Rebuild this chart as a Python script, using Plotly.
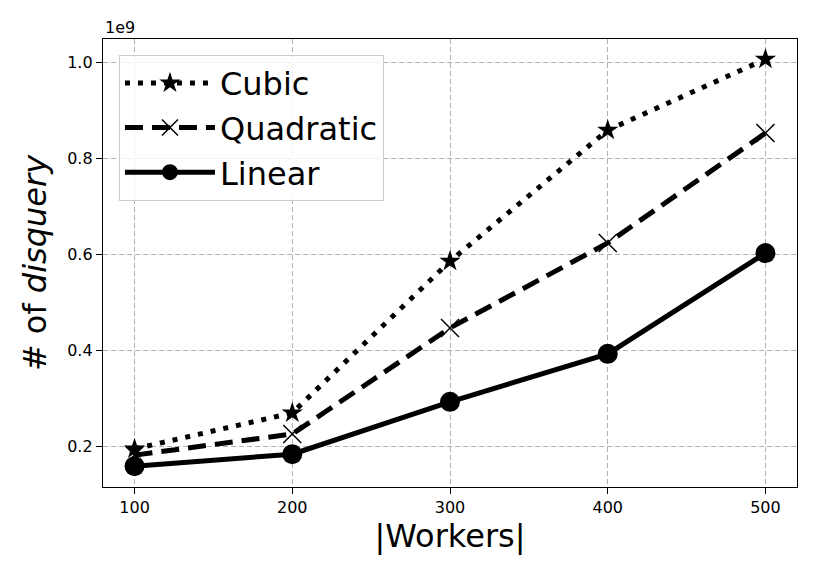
import plotly.graph_objects as go

workers = [100, 200, 300, 400, 500]
cubic = [0.194, 0.269, 0.585, 0.858, 1.006]
quadratic = [0.181, 0.225, 0.446, 0.623, 0.852]
linear = [0.158, 0.183, 0.292, 0.392, 0.602]

FONT = "DejaVu Sans"
fig = go.Figure()
fig.add_trace(go.Scatter(x=workers, y=cubic, name="Cubic", mode="lines+markers",
                         line=dict(color="black", width=5, dash="5px,8px"),
                         marker=dict(symbol="star", size=16, color="black")))
fig.add_trace(go.Scatter(x=workers, y=quadratic, name="Quadratic", mode="lines+markers",
                         line=dict(color="black", width=5, dash="18px,9px"),
                         marker=dict(symbol="x-thin-open", size=18, color="black",
                                     line=dict(color="black", width=1.5))))
fig.add_trace(go.Scatter(x=workers, y=linear, name="Linear", mode="lines+markers",
                         line=dict(color="black", width=5),
                         marker=dict(symbol="circle", size=20, color="black")))

axis_common = dict(showline=True, linecolor="black", linewidth=1.3, mirror=True,
                   ticks="outside", ticklen=6, tickcolor="black",
                   showgrid=True, gridcolor="#b0b0b0", griddash="5px,3px", gridwidth=1,
                   zeroline=False, tickfont=dict(family=FONT, size=16, color="black"))
fig.update_xaxes(range=[80, 520], tickvals=workers,
                 title=dict(text="|Workers|", font=dict(family=FONT, size=32, color="black"), standoff=6),
                 **axis_common)
fig.update_yaxes(range=[0.1146, 1.048], tickvals=[0.2, 0.4, 0.6, 0.8, 1.0], tickformat=".1f",
                 title=dict(text="# of <i>disquery</i>", font=dict(family=FONT, size=32, color="black"), standoff=10),
                 **axis_common)
fig.add_annotation(text="1e9", xref="paper", yref="paper", x=0, y=1, xanchor="left", yanchor="bottom",
                   showarrow=False, font=dict(family=FONT, size=16, color="black"), yshift=0)
fig.update_layout(width=830, height=575, margin=dict(l=95, r=41, t=31, b=96),
                  plot_bgcolor="white", paper_bgcolor="white",
                  legend=dict(x=0.023, y=0.965, xanchor="left", yanchor="top",
                              bgcolor="rgba(255,255,255,0.8)", bordercolor="#cccccc", borderwidth=1,
                              font=dict(family=FONT, size=32, color="black"),
                              itemwidth=90, tracegroupgap=0))
fig.write_html("out.html")
